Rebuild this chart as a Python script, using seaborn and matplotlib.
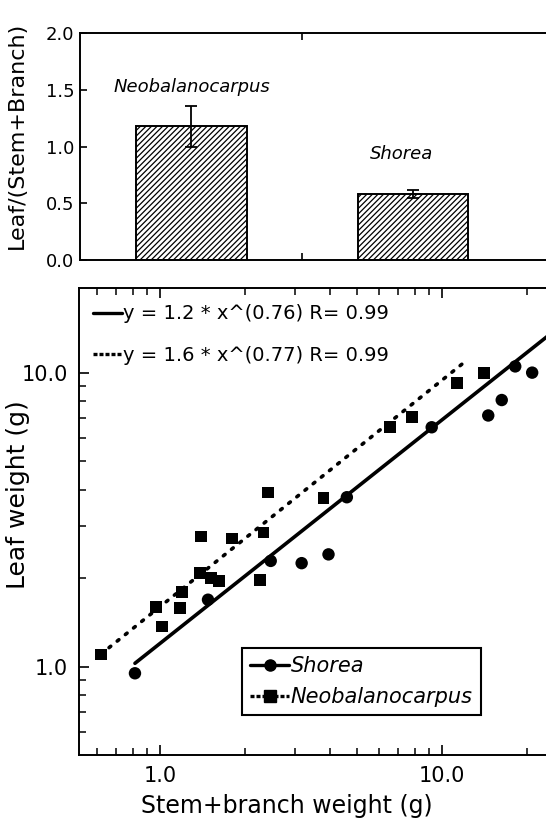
import numpy as np
import matplotlib
matplotlib.use('Agg')
import matplotlib.pyplot as plt
from matplotlib.lines import Line2D
from matplotlib.ticker import FixedLocator, LogLocator, NullFormatter, FormatStrFormatter
import seaborn as sns

# top panel: leaf / (stem+branch) ratio
species = ['Neobalanocarpus', 'Shorea']
ratio = [1.18, 0.58]
ratio_err = [0.18, 0.035]

# bottom panel: leaf weight vs stem+branch weight (g)
shorea_x = [0.815, 1.48, 2.47, 3.18, 3.96, 4.6, 9.2, 14.6, 16.3, 18.2, 20.9]
shorea_y = [0.95, 1.69, 2.29, 2.25, 2.41, 3.77, 6.52, 7.15, 8.07, 10.5, 10.0]
neo_x = [0.617, 0.965, 1.014, 1.18, 1.20, 1.39, 1.40, 1.52, 1.62, 1.80,
         2.26, 2.33, 2.42, 3.8, 6.55, 7.83, 11.3, 14.06]
neo_y = [1.10, 1.60, 1.37, 1.58, 1.80, 2.08, 2.77, 2.0, 1.96, 2.73,
         1.97, 2.86, 3.91, 3.74, 6.52, 7.08, 9.2, 9.95]

# power-law fits  y = a * x^b
fit_a = [1.2, 1.6]
fit_b = [0.76, 0.77]
fit_r = [0.99, 0.99]

sns.set_style('ticks')
plt.rcParams['font.family'] = ['DejaVu Sans']
plt.rcParams['hatch.linewidth'] = 0.9
plt.rcParams['axes.linewidth'] = 1.4
for k in ('text.color', 'axes.labelcolor', 'xtick.color', 'ytick.color',
          'axes.edgecolor'):
    plt.rcParams[k] = 'black'

fig = plt.figure(figsize=(5.46, 8.23), dpi=100)
W, H = 546, 823

# ---------- top bar panel ----------
ax1 = fig.add_axes([80 / W, 1 - 260 / H, 1 - 80 / W, 227 / H])
sns.barplot(x=species, y=ratio, ax=ax1, width=0.5, color='white',
            edgecolor='black', linewidth=1.4, errorbar=None)
for p in ax1.patches:
    p.set_hatch('//////')
    p.set_facecolor('white')
ax1.errorbar(range(len(species)), ratio, yerr=ratio_err, fmt='none',
             ecolor='black', elinewidth=1.3, capsize=4.5, capthick=1.3, zorder=5)

ax1.text(0, 1.52, species[0], style='italic', fontsize=13,
         ha='center', va='center')
ax1.text(0.95, 0.93, species[1], style='italic', fontsize=13,
         ha='center', va='center')

ax1.set_xlim(-0.503, -0.503 + 466 / 221.5)
ax1.set_xticks([0.5])
ax1.set_xticklabels([''])
ax1.set_xlabel('')
ax1.set_ylim(0, 2.0)
ax1.set_yticks(np.arange(0, 2.01, 0.5))
ax1.yaxis.set_major_formatter(FormatStrFormatter('%.1f'))
ax1.tick_params(direction='in', length=5, width=1.2, labelsize=13, pad=4,
                top=True, right=False)
ax1.spines['right'].set_visible(False)
ax1.set_ylabel('Leaf/(Stem+Branch)', fontsize=16)
ax1.yaxis.set_label_coords(-0.115, 0.55)

# ---------- bottom scatter panel ----------
ax2 = fig.add_axes([79 / W, 1 - 755 / H, 1 - 79 / W, 467 / H])
ax2.set_xscale('log')
ax2.set_yscale('log')
xmax = 23.4
dotted = (0, (0.6, 2.3))

xs_s = np.geomspace(min(shorea_x), xmax * 1.05, 60)
sns.lineplot(x=xs_s, y=fit_a[0] * xs_s ** fit_b[0], ax=ax2, color='black',
             lw=2.6, linestyle='-')
xs_n = np.geomspace(min(neo_x), max(neo_x) * 0.85, 60)
sns.lineplot(x=xs_n, y=fit_a[1] * xs_n ** fit_b[1], ax=ax2, color='black',
             lw=2.6, linestyle=dotted, dash_capstyle='round')

sns.scatterplot(x=shorea_x, y=shorea_y, ax=ax2, marker='o', s=80,
                color='black', edgecolor='none', zorder=4)
sns.scatterplot(x=neo_x, y=neo_y, ax=ax2, marker='s', s=72,
                color='black', edgecolor='none', zorder=4)

ax2.set_xlim(0.516, xmax)
ax2.set_ylim(0.501, 19.4)
for axis in (ax2.xaxis, ax2.yaxis):
    axis.set_major_locator(FixedLocator([1, 10]))
    axis.set_major_formatter(FormatStrFormatter('%.1f'))
    axis.set_minor_locator(LogLocator(base=10, subs=np.arange(2, 10)))
    axis.set_minor_formatter(NullFormatter())
ax2.tick_params(which='major', direction='in', length=7, width=1.2,
                labelsize=15, pad=8, top=True, right=False)
ax2.tick_params(which='minor', direction='in', length=5, width=1.1,
                top=True, right=False)
ax2.spines['right'].set_visible(False)

ax2.set_xlabel('Stem+branch weight (g)', fontsize=17)
ax2.xaxis.set_label_coords(0.444, -0.083)
ax2.set_ylabel('Leaf weight (g)', fontsize=18)
ax2.yaxis.set_label_coords(-0.105, 0.557)

# equation legend
eq_labels = [f'y = {a} * x^({b}) R= {r}' for a, b, r in zip(fit_a, fit_b, fit_r)]
eq_handles = [Line2D([], [], color='black', lw=2.4, ls='-'),
              Line2D([], [], color='black', lw=2.4, ls=(0, (1.2, 0.6)))]
leg1 = ax2.legend(eq_handles, eq_labels, loc='upper left',
                  bbox_to_anchor=(0.03, 0.965), frameon=False, fontsize=14,
                  handlelength=1.5, handletextpad=0.05, borderpad=0,
                  borderaxespad=0, labelspacing=1.15)
ax2.add_artist(leg1)

# species legend
sp_handles = [Line2D([], [], color='black', lw=2.4, ls='-', marker='o', ms=8),
              Line2D([], [], color='black', lw=2.4, ls=(0, (1.2, 0.6)),
                     marker='s', ms=8)]
leg2 = ax2.legend(sp_handles, [species[1], species[0]], loc='upper left',
                  bbox_to_anchor=(0.348, 0.229), frameon=True, fancybox=False,
                  edgecolor='black', framealpha=1,
                  prop={'style': 'italic', 'size': 15}, handlelength=1.9,
                  handletextpad=0.05, borderpad=0.4, borderaxespad=0,
                  labelspacing=0.5, numpoints=1)
leg2.get_frame().set_linewidth(1.5)

fig.savefig('out.png', dpi=100)
